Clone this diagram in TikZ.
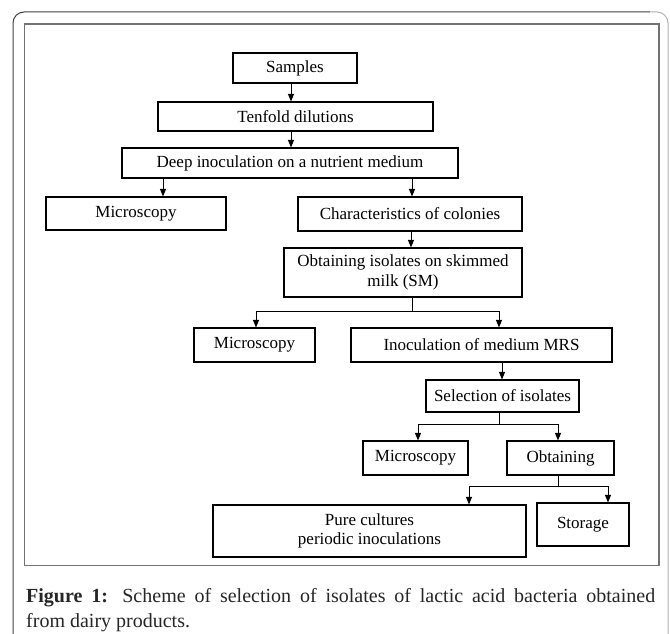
\documentclass[tikz,border=0pt]{standalone}
\usepackage{fontspec}
\setmainfont{Liberation Serif}
\usetikzlibrary{arrows.meta}
\begin{document}
\begin{tikzpicture}[x=1pt,y=-1pt,
  box/.style={draw=black, line width=1.1pt, inner sep=0pt, align=center,
    font=\fontsize{17}{20.5}\selectfont},
  arr/.style={-{Triangle[length=7.5pt,width=6pt]}, line width=1pt}]
\useasboundingbox (0,0) rectangle (670,634);
\fill[white] (0,0) rectangle (670,634);
% outer frame
\draw[black!75, line width=1pt, rounded corners=11pt] (13,634) -- (13,12) -- (650,12);
\draw[black!30, line width=1pt, rounded corners=11pt] (650,12) -- (668,12) -- (668,634);
% inner frame
\draw[black!55, line width=1.3pt] (24.5,24) rectangle (659,565.5);

% boxes
\node[box, minimum width=124pt, minimum height=30pt] (samples) at (295,68) {Samples};
\node[box, minimum width=275pt, minimum height=29pt] (tenfold) at (295.5,116.5) {Tenfold dilutions};
\node[box, minimum width=336pt, minimum height=30pt] (deep) at (290,163) {Deep inoculation on a nutrient medium};
\node[box, minimum width=180pt, minimum height=33pt] (micro1) at (136,213.5) {Microscopy};
\node[box, minimum width=224pt, minimum height=34pt] (chars) at (410,214) {Characteristics of colonies};
\node[box, minimum width=238pt, minimum height=49pt] (isol) at (403,272.5) {Obtaining isolates on skimmed\\milk (SM)};
\node[box, minimum width=121pt, minimum height=34pt] (micro2) at (254.5,345) {Microscopy};
\node[box, minimum width=261pt, minimum height=34pt] (mrs) at (481.5,345) {Inoculation of medium MRS};
\node[box, minimum width=153pt, minimum height=32pt] (sel) at (502.5,396) {Selection of isolates};
\node[box, minimum width=105pt, minimum height=34pt] (micro3) at (415.5,458) {Microscopy};
\node[box, minimum width=107pt, minimum height=34pt] (obt) at (560.5,458) {Obtaining};
\node[box, minimum width=313pt, minimum height=52pt, font=\fontsize{17}{18.5}\selectfont] (pure) at (369.5,531) {Pure cultures\\periodic inoculations};
\node[box, minimum width=92pt, minimum height=43pt] (storage) at (583,524.5) {Storage};

% connectors
\draw[arr] ([xshift=-4pt]samples.south) -- ([xshift=-4pt]samples.south |- tenfold.north);
\draw[arr] ([xshift=-4.5pt]tenfold.south) -- ([xshift=-4.5pt]tenfold.south |- deep.north);
\draw[arr] ([xshift=27pt]micro1.north |- deep.south) -- ([xshift=27pt]micro1.north);
\draw[arr] ([xshift=2pt]chars.north |- deep.south) -- ([xshift=2pt]chars.north);
\draw[arr] ([xshift=1pt]chars.south) -- ([xshift=1pt]chars.south |- isol.north);
\draw[arr] ([xshift=9pt]isol.south) -- ++(0,14) -| ([xshift=1.5pt]micro2.north);
\draw[arr] ([xshift=9pt]isol.south) -- ++(0,14) -| ([xshift=17.5pt]mrs.north);
\draw[arr] ([xshift=20.5pt]mrs.south) -- ([xshift=20.5pt]mrs.south |- sel.north);
\draw[arr] ([xshift=-3.5pt]sel.south) -- ++(0,12) -| ([xshift=2.5pt]micro3.north);
\draw[arr] ([xshift=-3.5pt]sel.south) -- ++(0,12) -| ([xshift=-2.5pt]obt.north);
\draw[arr] ([xshift=-2.5pt]obt.south) -- ++(0,11) -| ([xshift=99.5pt]pure.north);
\draw[arr] ([xshift=-2.5pt]obt.south) -- ++(0,11) -| ([xshift=25pt]storage.north);

% caption
\node[anchor=north west, text width=629pt, inner sep=0pt, align=justify,
  text=black!85, font=\fontsize{20}{25}\selectfont] (cap) at (26,588)
  {\textbf{Figure 1:} Scheme of selection of isolates of lactic acid bacteria obtained\linebreak from dairy products.};
\end{tikzpicture}
\end{document}
